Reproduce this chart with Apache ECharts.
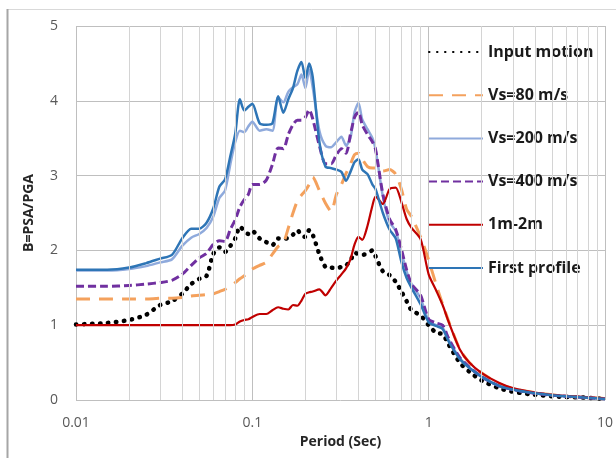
<!DOCTYPE html>
<html>
<head>
<meta charset="utf-8">
<script src="https://cdn.jsdelivr.net/npm/echarts@6/dist/echarts.min.js"></script>
<style>
  html, body { margin: 0; padding: 0; background: #fff; }
  #chart { width: 616px; height: 458px; }
</style>
</head>
<body>
<div id="chart"></div>
<script>
// Period grid (s) shared by all spectra
const periods = [
  0.01, 0.015, 0.02, 0.025, 0.03, 0.035, 0.04, 0.045, 0.05, 0.055, 0.06, 0.065, 0.07, 0.075, 0.08, 0.085, 0.09, 0.095, 0.1,
  0.11, 0.12, 0.13, 0.14, 0.15, 0.16, 0.17, 0.18, 0.19, 0.2, 0.21, 0.22,
  0.24, 0.26, 0.28, 0.3, 0.32, 0.34, 0.36, 0.38, 0.4, 0.42, 0.45, 0.48, 0.5,
  0.55, 0.6, 0.65, 0.7, 0.75, 0.8, 0.9, 1,
  1.1, 1.2, 1.3, 1.5, 1.7, 2, 2.5, 3, 4, 5, 6, 8, 10
];

// Spectral amplification B = PSA/PGA
const inputMotion = [
  1.01, 1.03, 1.07, 1.14, 1.27, 1.32, 1.42, 1.55, 1.62, 1.66, 1.95, 2.04, 1.98, 2.06, 2.16, 2.32, 2.26, 2.22, 2.26,
  2.16, 2.11, 2.07, 2.16, 2.15, 2.17, 2.21, 2.27, 2.20, 2.18, 2.27, 2.21,
  1.95, 1.78, 1.77, 1.76, 1.78, 1.80, 1.86, 1.97, 1.95, 1.94, 1.96, 2.00, 1.92,
  1.72, 1.67, 1.58, 1.45, 1.32, 1.20, 1.13, 1.00,
  0.90, 0.88, 0.74, 0.50, 0.38, 0.26, 0.16, 0.11, 0.07, 0.05, 0.04, 0.03, 0.015
];
const vs80 = [
  1.35, 1.35, 1.35, 1.35, 1.36, 1.36, 1.37, 1.39, 1.40, 1.41, 1.42, 1.45, 1.48, 1.52, 1.57, 1.62, 1.66, 1.70, 1.75,
  1.80, 1.84, 1.95, 2.05, 2.10, 2.30, 2.50, 2.66, 2.74, 2.80, 2.88, 2.98,
  2.80, 2.63, 2.52, 2.75, 2.88, 3.03, 3.15, 3.28, 3.30, 3.22, 3.12, 3.10, 3.10,
  3.06, 3.08, 3.02, 2.82, 2.55, 2.45, 2.18, 1.87,
  1.55, 1.28, 1.05, 0.68, 0.50, 0.36, 0.22, 0.15, 0.10, 0.07, 0.05, 0.035, 0.02
];
const vs200 = [
  1.73, 1.73, 1.75, 1.79, 1.84, 1.88, 2.06, 2.17, 2.22, 2.30, 2.45, 2.70, 2.80, 3.15, 3.45, 3.60, 3.58, 3.66, 3.72,
  3.60, 3.62, 3.60, 4.05, 3.98, 4.12, 4.18, 4.22, 4.35, 4.17, 4.42, 4.18,
  3.60, 3.40, 3.38, 3.45, 3.52, 3.40, 3.50, 3.85, 3.97, 3.75, 3.62, 3.50, 3.35,
  2.72, 2.38, 2.26, 1.98, 1.72, 1.55, 1.36, 1.06,
  1.00, 0.97, 0.80, 0.56, 0.43, 0.31, 0.19, 0.14, 0.09, 0.065, 0.05, 0.03, 0.015
];
const vs400 = [
  1.52, 1.52, 1.53, 1.55, 1.57, 1.60, 1.68, 1.80, 1.90, 1.96, 2.08, 2.13, 2.12, 2.28, 2.41, 2.58, 2.68, 2.75, 2.88,
  2.88, 2.94, 3.15, 3.37, 3.36, 3.55, 3.68, 3.74, 3.74, 3.78, 3.88, 3.76,
  3.40, 3.16, 3.16, 3.28, 3.36, 3.30, 3.55, 3.78, 3.85, 3.68, 3.55, 3.45, 3.35,
  2.75, 2.42, 2.28, 2.02, 1.74, 1.55, 1.40, 1.08,
  1.03, 1.00, 0.82, 0.57, 0.44, 0.31, 0.19, 0.14, 0.09, 0.065, 0.05, 0.03, 0.015
];
const layer1m2m = [
  1.00, 1.00, 1.00, 1.00, 1.00, 1.00, 1.00, 1.00, 1.00, 1.00, 1.00, 1.00, 1.00, 1.00, 1.01, 1.05, 1.07, 1.08, 1.11,
  1.15, 1.15, 1.20, 1.24, 1.22, 1.21, 1.27, 1.26, 1.33, 1.42, 1.44, 1.45,
  1.48, 1.40, 1.50, 1.60, 1.68, 1.76, 1.88, 2.08, 2.18, 2.14, 2.33, 2.60, 2.72,
  2.62, 2.82, 2.84, 2.65, 2.42, 2.30, 2.15, 1.68,
  1.47, 1.27, 1.04, 0.68, 0.50, 0.36, 0.23, 0.16, 0.10, 0.07, 0.055, 0.035, 0.02
];
const firstProfile = [
  1.74, 1.74, 1.77, 1.83, 1.89, 1.94, 2.16, 2.29, 2.29, 2.37, 2.56, 2.85, 2.95, 3.26, 3.56, 4.02, 3.87, 3.92, 3.96,
  3.70, 3.68, 3.70, 4.06, 3.84, 4.02, 4.17, 4.40, 4.52, 4.30, 4.50, 4.32,
  3.45, 3.12, 3.10, 3.08, 3.05, 2.93, 3.05, 3.18, 3.22, 3.08, 3.02, 2.88, 2.82,
  2.50, 2.28, 2.16, 1.85, 1.63, 1.50, 1.28, 1.04,
  0.99, 0.95, 0.78, 0.55, 0.43, 0.31, 0.19, 0.14, 0.09, 0.065, 0.05, 0.03, 0.015
];

const seriesNames = ['Input motion', 'Vs=80 m/s', 'Vs=200 m/s', 'Vs=400 m/s', '1m-2m', 'First profile'];
const xTickLabels = ['0.01', '0.1', '1', '10'];
const yTicks = [0, 1, 2, 3, 4, 5];

// minor log gridlines at 2..9 of each decade
const minorGrid = [];
[0.01, 0.1, 1].forEach(function (d) {
  for (let k = 2; k <= 9; k++) minorGrid.push(+(d * k).toPrecision(2));
});

const pair = arr => periods.map((t, i) => [t, arr[i]]);

const FONT = '"Open Sans", "DejaVu Sans", sans-serif';

const styles = [
  { color: '#000000', width: 4.5, type: [0.5, 7.5], cap: 'round' },
  { color: '#F4A15D', width: 3, type: [14, 9], cap: 'butt' },
  { color: '#8FAADC', width: 2.5, type: 'solid', cap: 'butt' },
  { color: '#7030A0', width: 3, type: [8, 4], cap: 'butt' },
  { color: '#C00000', width: 2.2, type: 'solid', cap: 'butt' },
  { color: '#2E75B6', width: 2.5, type: 'solid', cap: 'butt' }
];
const values = [inputMotion, vs80, vs200, vs400, layer1m2m, firstProfile];

const series = [{
  type: 'line',
  data: [],
  z: 1,
  silent: true,
  markLine: {
    silent: true,
    symbol: 'none',
    animation: false,
    label: { show: false },
    lineStyle: { color: '#D4D4D4', width: 1, type: 'solid' },
    data: minorGrid.map(v => ({ xAxis: v }))
  }
}];
seriesNames.forEach(function (name, i) {
  const s = styles[i];
  series.push({
    name: name,
    type: 'line',
    data: pair(values[i]),
    smooth: 0.25,
    symbol: 'none',
    z: 3,
    itemStyle: { color: s.color },
    lineStyle: { color: s.color, width: s.width, type: s.type, cap: s.cap, join: 'round' }
  });
});

const chart = echarts.init(document.getElementById('chart'), null, { renderer: 'canvas' });
chart.setOption({
  animation: false,
  backgroundColor: '#ffffff',
  textStyle: { fontFamily: FONT },
  grid: { left: 76, right: 11, top: 26, bottom: 58 },
  graphic: [
    { type: 'line', silent: true, shape: { x1: 7, y1: 9.5, x2: 616, y2: 9.5 }, style: { stroke: '#D9D9D9', lineWidth: 1 } },
    { type: 'line', silent: true, shape: { x1: 7.5, y1: 9, x2: 7.5, y2: 458 }, style: { stroke: '#A6A6A6', lineWidth: 2 } }
  ],
  legend: {
    data: seriesNames,
    orient: 'vertical',
    left: 428,
    top: 44,
    padding: 0,
    itemWidth: 54,
    itemHeight: 16,
    itemGap: 27.2,
    itemStyle: { opacity: 0 },
    textStyle: { fontFamily: FONT, fontSize: 16, lineHeight: 16, fontWeight: 'bold', color: '#1A1A1A' }
  },
  xAxis: {
    type: 'log',
    logBase: 10,
    min: 0.01,
    max: 10,
    name: 'Period (Sec)',
    nameLocation: 'middle',
    nameGap: 32,
    nameTextStyle: { fontFamily: FONT, fontSize: 14, fontWeight: 'bold', color: '#262626' },
    axisLine: { show: false },
    axisTick: { show: false },
    axisLabel: {
      margin: 16,
      fontFamily: FONT, fontSize: 14, color: '#595959',
      formatter: function (v) {
        const s = String(+Number(v).toPrecision(3));
        return xTickLabels.indexOf(s) >= 0 ? s : '';
      }
    },
    splitLine: { show: true, lineStyle: { color: '#BFBFBF', width: 1 } }
  },
  yAxis: {
    type: 'value',
    min: yTicks[0],
    max: yTicks[yTicks.length - 1],
    interval: 1,
    name: 'B=PSA/PGA',
    nameLocation: 'middle',
    nameRotate: 90,
    nameGap: 40,
    nameTextStyle: { fontFamily: FONT, fontSize: 14, fontWeight: 'bold', color: '#262626' },
    axisLine: { show: false },
    axisTick: { show: false },
    axisLabel: { margin: 18, fontFamily: FONT, fontSize: 14, color: '#595959' },
    splitLine: { show: true, lineStyle: { color: '#BFBFBF', width: 1 } }
  },
  series: series
});
</script>
</body>
</html>
